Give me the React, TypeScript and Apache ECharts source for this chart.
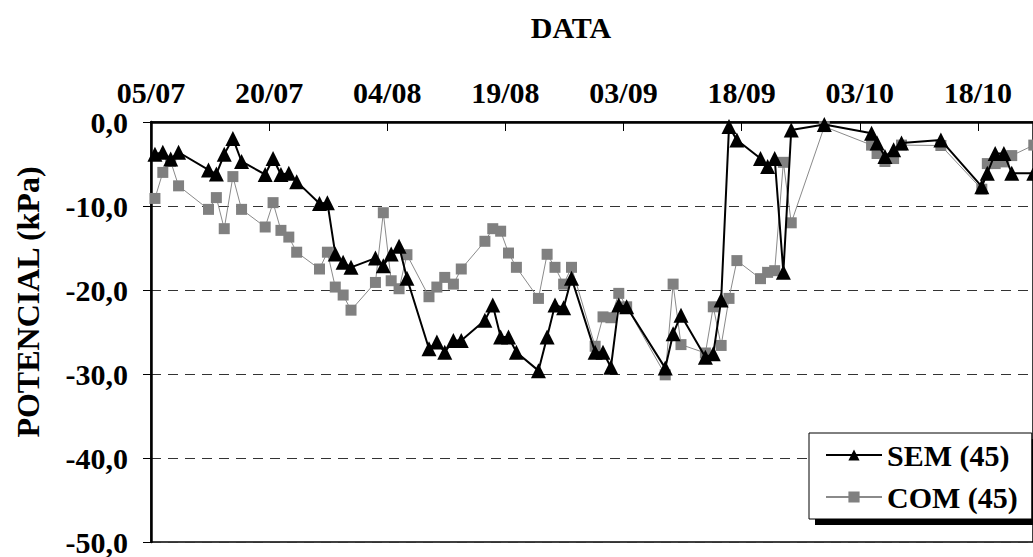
import React, { useEffect, useRef } from "react";
import * as echarts from "echarts";

// Days counted from 05/07
const DAYS = [
  0.5, 1.5, 2.5, 3.5, 7.3, 8.3, 9.3, 10.4, 11.5, 14.5, 15.5, 16.5, 17.5, 18.5,
  21.4, 22.4, 23.4, 24.4, 25.4, 28.5, 29.5, 30.5, 31.5, 32.5, 35.3, 36.3, 37.3,
  38.4, 39.4, 42.4, 43.4, 44.4, 45.4, 46.4, 49.2, 50.3, 51.3, 52.4, 53.4, 56.4,
  57.4, 58.4, 59.4, 60.4, 65.3, 66.3, 67.3, 70.4, 71.4, 72.4, 73.4, 74.4, 77.4,
  78.3, 79.2, 80.3, 81.3, 85.5, 91.5, 92.2, 93.2, 94.3, 95.3, 100.3, 105.5,
  106.2, 107.2, 108.3, 109.3, 112.1,
];

const SEM = [
  -3.85, -3.6, -4.4, -3.6, -5.7, -6.2, -3.85, -1.95, -4.7, -6.25, -4.35, -6.25,
  -6.1, -7.1, -9.7, -9.6, -15.7, -16.7, -17.3, -16.2, -17.1, -15.7, -14.8,
  -18.6, -27.0, -26.2, -27.4, -26.0, -26.0, -23.6, -21.8, -25.6, -25.6, -27.4,
  -29.6, -25.6, -21.8, -22.1, -18.6, -27.4, -27.4, -29.2, -21.8, -22.0, -29.3,
  -25.2, -23.0, -28.0, -27.6, -21.2, -0.55, -2.15, -4.35, -5.3, -4.35, -17.9,
  -0.95, -0.3, -1.35, -2.5, -4.1, -3.3, -2.5, -2.15, -7.7, -6.1, -3.75, -3.75,
  -6.1, -6.1,
];

const COM = [
  -9.1, -6.0, -4.7, -7.6, -10.4, -9.0, -12.7, -6.5, -10.4, -12.5, -9.6, -12.9,
  -13.7, -15.5, -17.5, -15.5, -19.65, -20.6, -22.4, -19.1, -10.8, -18.9,
  -19.85, -15.8, -20.8, -19.65, -18.5, -19.3, -17.5, -14.2, -12.7, -13.0,
  -15.6, -17.3, -21.0, -15.75, -17.3, -19.3, -17.3, -26.7, -23.2, -23.3, -20.4,
  -22.0, -30.1, -19.3, -26.5, -27.5, -22.0, -26.6, -21.0, -16.5, -18.65, -17.9,
  -17.7, -4.8, -12.0, -0.55, -2.75, -3.75, -4.7, -4.35, -2.75, -2.8, -8.0,
  -4.95, -4.95, -4.75, -4.0, -2.75,
];

const X_TICKS = ["05/07", "20/07", "04/08", "19/08", "03/09", "18/09", "03/10", "18/10"];
const X_STEP = 15;
const SERIES_NAMES = ["SEM (45)", "COM (45)"];
const TITLE_X = "DATA";
const TITLE_Y = "POTENCIAL (kPa)";

const FONT = "'Liberation Serif', 'Times New Roman', serif";

export default function App() {
  const ref = useRef<HTMLDivElement>(null);
  useEffect(() => {
    if (!ref.current) return;
    const chart = echarts.init(ref.current, undefined, { renderer: "svg" });
    const semData = DAYS.map((d, i) => [d, SEM[i]]);
    const comData = DAYS.map((d, i) => [d, COM[i]]);
    chart.setOption({
      animation: false,
      backgroundColor: "#fff",
      grid: {
        left: 151,
        top: 122,
        right: 0,
        bottom: 15,
        show: true,
        borderColor: "#000",
        borderWidth: 1.5,
        backgroundColor: "transparent",
      },
      xAxis: {
        type: "value",
        position: "top",
        min: 0,
        max: 112,
        interval: X_STEP,
        axisLine: { show: true, onZero: false, lineStyle: { color: "#000", width: 2.5 } },
        axisTick: { show: true, inside: true, length: 9, lineStyle: { color: "#000", width: 1 } },
        splitLine: { show: false },
        axisLabel: {
          showMaxLabel: false,
          margin: 15,
          color: "#000",
          fontFamily: FONT,
          fontWeight: "bold",
          fontSize: 30,
          formatter: (v: number) => {
            const idx = Math.round(v / X_STEP);
            return Math.abs(v - idx * X_STEP) < 1e-6 && X_TICKS[idx] ? X_TICKS[idx] : "";
          },
        },
      },
      yAxis: {
        type: "value",
        min: -50,
        max: 0,
        interval: 10,
        axisLine: { show: true, onZero: false, lineStyle: { color: "#000", width: 2.5 } },
        axisTick: { show: true, inside: false, length: 8, lineStyle: { color: "#000", width: 1 } },
        splitLine: {
          show: true,
          lineStyle: { color: "#333", width: 1.2, type: [10, 7] },
        },
        axisLabel: {
          margin: 23,
          color: "#000",
          fontFamily: FONT,
          fontWeight: "bold",
          fontSize: 30,
          formatter: (v: number) => v.toFixed(1).replace(".", ","),
        },
      },
      legend: {
        orient: "vertical",
        left: 809,
        top: 433,
        backgroundColor: "#fff",
        borderColor: "#000",
        borderWidth: 1,
        padding: [7, 14, 7, 16],
        itemWidth: 56,
        itemHeight: 14,
        itemGap: 12,
        data: SERIES_NAMES,
        textStyle: {
          color: "#000",
          fontFamily: FONT,
          fontWeight: "bold",
          fontSize: 30,
        },
      },
      graphic: [
        {
          type: "rect",
          z: 3,
          shape: { x: 815, y: 439, width: 222, height: 86 },
          style: { fill: "#000" },
        },
        {
          type: "text",
          x: 571,
          y: 27,
          style: {
            text: TITLE_X,
            font: `bold 30px ${FONT}`,
            fill: "#000",
            align: "center",
            verticalAlign: "middle",
          },
        },
        {
          type: "text",
          x: 28,
          y: 302,
          rotation: Math.PI / 2,
          style: {
            text: TITLE_Y,
            font: `bold 32px ${FONT}`,
            fill: "#000",
            align: "center",
            verticalAlign: "middle",
          },
        },
      ],
      series: [
        {
          name: SERIES_NAMES[1],
          type: "line",
          data: comData,
          clip: false,
          symbol: "rect",
          symbolSize: 11,
          lineStyle: { color: "#8a8a8a", width: 1 },
          itemStyle: { color: "#808080" },
          z: 2,
        },
        {
          name: SERIES_NAMES[0],
          type: "line",
          data: semData,
          clip: false,
          symbol: "triangle",
          symbolSize: 15,
          lineStyle: { color: "#000", width: 2 },
          itemStyle: { color: "#000" },
          z: 3,
        },
      ],
    });
    return () => chart.dispose();
  }, []);
  return (
    <div
      ref={ref}
      style={{ position: "absolute", left: 0, top: 0, width: 1033, height: 557, background: "#fff" }}
    />
  );
}
